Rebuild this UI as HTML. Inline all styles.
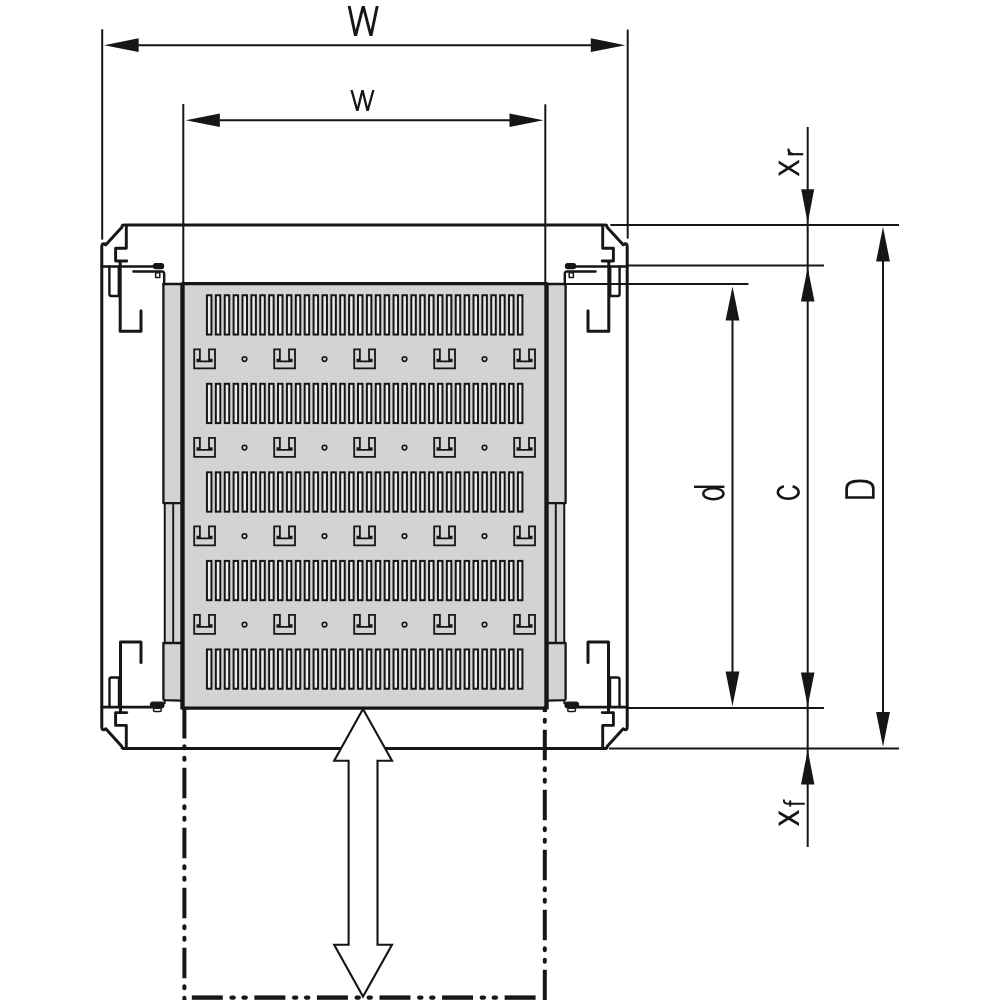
<!DOCTYPE html><html><head><meta charset="utf-8"><style>html,body{margin:0;padding:0;background:#fff;width:1000px;height:1000px;overflow:hidden}svg{display:block}</style></head><body>
<svg width="1000" height="1000" viewBox="0 0 1000 1000">
<rect width="1000" height="1000" fill="#fff"/>
<g stroke="#161616" fill="none" stroke-linecap="butt" stroke-linejoin="round">
<line x1="102.20" y1="29.30" x2="102.20" y2="239.60" stroke-width="2.00"/>
<line x1="627.70" y1="29.50" x2="627.70" y2="238.60" stroke-width="2.00"/>
<line x1="115.00" y1="45.20" x2="615.00" y2="45.20" stroke-width="2.00"/>
</g>
<polygon points="104.10,45.20 138.60,38.35 138.60,52.05" fill="#161616"/>
<polygon points="625.30,45.20 590.80,38.35 590.80,52.05" fill="#161616"/>
<g stroke="#161616" fill="none" stroke-linecap="butt" stroke-linejoin="miter">
<polygon points="347.69,5.95 350.65,5.95 355.68,29.73 361.76,5.95 364.72,5.95 370.79,29.70 375.76,5.95 378.72,5.95 372.42,36.04 369.46,36.04 363.24,11.71 357.02,36.04 354.06,36.04" fill="#161616" stroke="none"/>
<line x1="183.30" y1="104.00" x2="183.30" y2="283.00" stroke-width="2.00"/>
<line x1="545.30" y1="104.30" x2="545.30" y2="284.00" stroke-width="2.00"/>
<line x1="200.00" y1="120.30" x2="530.00" y2="120.30" stroke-width="2.00"/>
<polygon points="350.38,89.90 352.74,89.90 357.27,106.53 361.32,89.90 363.68,89.90 367.65,106.49 372.18,89.90 374.53,89.90 368.75,111.08 366.40,111.08 362.49,94.76 358.51,111.08 356.16,111.08" fill="#161616" stroke="none"/>
</g>
<polygon points="185.80,120.30 219.90,113.55 219.90,127.05" fill="#161616"/>
<polygon points="543.40,120.30 509.50,113.55 509.50,127.05" fill="#161616"/>
<rect x="182.5" y="284" width="364" height="424" fill="#d3d3d3"/>
<rect x="163.40" y="284" width="19.10" height="416" fill="#d3d3d3"/>
<rect x="546.50" y="284" width="19.10" height="416" fill="#d3d3d3"/>
<g stroke="#161616" fill="none" stroke-linecap="round" stroke-linejoin="round">
<line x1="182.50" y1="283.60" x2="546.50" y2="283.60" stroke-width="3.10"/>
<line x1="182.50" y1="708.10" x2="546.50" y2="708.10" stroke-width="3.10"/>
</g>
<rect x="180.3" y="282.7" width="4.4" height="426.6" fill="#161616"/>
<rect x="544.3" y="282.7" width="4.4" height="426.6" fill="#161616"/>
<g stroke="#161616" fill="#ededed" stroke-width="2.0">
<rect x="206.95" y="295.25" width="4.5" height="39.3"/>
<rect x="215.83" y="295.25" width="4.5" height="39.3"/>
<rect x="224.72" y="295.25" width="4.5" height="39.3"/>
<rect x="233.60" y="295.25" width="4.5" height="39.3"/>
<rect x="242.49" y="295.25" width="4.5" height="39.3"/>
<rect x="251.38" y="295.25" width="4.5" height="39.3"/>
<rect x="260.26" y="295.25" width="4.5" height="39.3"/>
<rect x="269.14" y="295.25" width="4.5" height="39.3"/>
<rect x="278.03" y="295.25" width="4.5" height="39.3"/>
<rect x="286.92" y="295.25" width="4.5" height="39.3"/>
<rect x="295.80" y="295.25" width="4.5" height="39.3"/>
<rect x="304.69" y="295.25" width="4.5" height="39.3"/>
<rect x="313.57" y="295.25" width="4.5" height="39.3"/>
<rect x="322.45" y="295.25" width="4.5" height="39.3"/>
<rect x="331.34" y="295.25" width="4.5" height="39.3"/>
<rect x="340.22" y="295.25" width="4.5" height="39.3"/>
<rect x="349.11" y="295.25" width="4.5" height="39.3"/>
<rect x="357.99" y="295.25" width="4.5" height="39.3"/>
<rect x="366.88" y="295.25" width="4.5" height="39.3"/>
<rect x="375.76" y="295.25" width="4.5" height="39.3"/>
<rect x="384.65" y="295.25" width="4.5" height="39.3"/>
<rect x="393.54" y="295.25" width="4.5" height="39.3"/>
<rect x="402.42" y="295.25" width="4.5" height="39.3"/>
<rect x="411.31" y="295.25" width="4.5" height="39.3"/>
<rect x="420.19" y="295.25" width="4.5" height="39.3"/>
<rect x="429.07" y="295.25" width="4.5" height="39.3"/>
<rect x="437.96" y="295.25" width="4.5" height="39.3"/>
<rect x="446.84" y="295.25" width="4.5" height="39.3"/>
<rect x="455.73" y="295.25" width="4.5" height="39.3"/>
<rect x="464.62" y="295.25" width="4.5" height="39.3"/>
<rect x="473.50" y="295.25" width="4.5" height="39.3"/>
<rect x="482.38" y="295.25" width="4.5" height="39.3"/>
<rect x="491.27" y="295.25" width="4.5" height="39.3"/>
<rect x="500.15" y="295.25" width="4.5" height="39.3"/>
<rect x="509.04" y="295.25" width="4.5" height="39.3"/>
<rect x="517.92" y="295.25" width="4.5" height="39.3"/>
<rect x="206.95" y="383.80" width="4.5" height="39.3"/>
<rect x="215.83" y="383.80" width="4.5" height="39.3"/>
<rect x="224.72" y="383.80" width="4.5" height="39.3"/>
<rect x="233.60" y="383.80" width="4.5" height="39.3"/>
<rect x="242.49" y="383.80" width="4.5" height="39.3"/>
<rect x="251.38" y="383.80" width="4.5" height="39.3"/>
<rect x="260.26" y="383.80" width="4.5" height="39.3"/>
<rect x="269.14" y="383.80" width="4.5" height="39.3"/>
<rect x="278.03" y="383.80" width="4.5" height="39.3"/>
<rect x="286.92" y="383.80" width="4.5" height="39.3"/>
<rect x="295.80" y="383.80" width="4.5" height="39.3"/>
<rect x="304.69" y="383.80" width="4.5" height="39.3"/>
<rect x="313.57" y="383.80" width="4.5" height="39.3"/>
<rect x="322.45" y="383.80" width="4.5" height="39.3"/>
<rect x="331.34" y="383.80" width="4.5" height="39.3"/>
<rect x="340.22" y="383.80" width="4.5" height="39.3"/>
<rect x="349.11" y="383.80" width="4.5" height="39.3"/>
<rect x="357.99" y="383.80" width="4.5" height="39.3"/>
<rect x="366.88" y="383.80" width="4.5" height="39.3"/>
<rect x="375.76" y="383.80" width="4.5" height="39.3"/>
<rect x="384.65" y="383.80" width="4.5" height="39.3"/>
<rect x="393.54" y="383.80" width="4.5" height="39.3"/>
<rect x="402.42" y="383.80" width="4.5" height="39.3"/>
<rect x="411.31" y="383.80" width="4.5" height="39.3"/>
<rect x="420.19" y="383.80" width="4.5" height="39.3"/>
<rect x="429.07" y="383.80" width="4.5" height="39.3"/>
<rect x="437.96" y="383.80" width="4.5" height="39.3"/>
<rect x="446.84" y="383.80" width="4.5" height="39.3"/>
<rect x="455.73" y="383.80" width="4.5" height="39.3"/>
<rect x="464.62" y="383.80" width="4.5" height="39.3"/>
<rect x="473.50" y="383.80" width="4.5" height="39.3"/>
<rect x="482.38" y="383.80" width="4.5" height="39.3"/>
<rect x="491.27" y="383.80" width="4.5" height="39.3"/>
<rect x="500.15" y="383.80" width="4.5" height="39.3"/>
<rect x="509.04" y="383.80" width="4.5" height="39.3"/>
<rect x="517.92" y="383.80" width="4.5" height="39.3"/>
<rect x="206.95" y="472.35" width="4.5" height="39.3"/>
<rect x="215.83" y="472.35" width="4.5" height="39.3"/>
<rect x="224.72" y="472.35" width="4.5" height="39.3"/>
<rect x="233.60" y="472.35" width="4.5" height="39.3"/>
<rect x="242.49" y="472.35" width="4.5" height="39.3"/>
<rect x="251.38" y="472.35" width="4.5" height="39.3"/>
<rect x="260.26" y="472.35" width="4.5" height="39.3"/>
<rect x="269.14" y="472.35" width="4.5" height="39.3"/>
<rect x="278.03" y="472.35" width="4.5" height="39.3"/>
<rect x="286.92" y="472.35" width="4.5" height="39.3"/>
<rect x="295.80" y="472.35" width="4.5" height="39.3"/>
<rect x="304.69" y="472.35" width="4.5" height="39.3"/>
<rect x="313.57" y="472.35" width="4.5" height="39.3"/>
<rect x="322.45" y="472.35" width="4.5" height="39.3"/>
<rect x="331.34" y="472.35" width="4.5" height="39.3"/>
<rect x="340.22" y="472.35" width="4.5" height="39.3"/>
<rect x="349.11" y="472.35" width="4.5" height="39.3"/>
<rect x="357.99" y="472.35" width="4.5" height="39.3"/>
<rect x="366.88" y="472.35" width="4.5" height="39.3"/>
<rect x="375.76" y="472.35" width="4.5" height="39.3"/>
<rect x="384.65" y="472.35" width="4.5" height="39.3"/>
<rect x="393.54" y="472.35" width="4.5" height="39.3"/>
<rect x="402.42" y="472.35" width="4.5" height="39.3"/>
<rect x="411.31" y="472.35" width="4.5" height="39.3"/>
<rect x="420.19" y="472.35" width="4.5" height="39.3"/>
<rect x="429.07" y="472.35" width="4.5" height="39.3"/>
<rect x="437.96" y="472.35" width="4.5" height="39.3"/>
<rect x="446.84" y="472.35" width="4.5" height="39.3"/>
<rect x="455.73" y="472.35" width="4.5" height="39.3"/>
<rect x="464.62" y="472.35" width="4.5" height="39.3"/>
<rect x="473.50" y="472.35" width="4.5" height="39.3"/>
<rect x="482.38" y="472.35" width="4.5" height="39.3"/>
<rect x="491.27" y="472.35" width="4.5" height="39.3"/>
<rect x="500.15" y="472.35" width="4.5" height="39.3"/>
<rect x="509.04" y="472.35" width="4.5" height="39.3"/>
<rect x="517.92" y="472.35" width="4.5" height="39.3"/>
<rect x="206.95" y="560.90" width="4.5" height="39.3"/>
<rect x="215.83" y="560.90" width="4.5" height="39.3"/>
<rect x="224.72" y="560.90" width="4.5" height="39.3"/>
<rect x="233.60" y="560.90" width="4.5" height="39.3"/>
<rect x="242.49" y="560.90" width="4.5" height="39.3"/>
<rect x="251.38" y="560.90" width="4.5" height="39.3"/>
<rect x="260.26" y="560.90" width="4.5" height="39.3"/>
<rect x="269.14" y="560.90" width="4.5" height="39.3"/>
<rect x="278.03" y="560.90" width="4.5" height="39.3"/>
<rect x="286.92" y="560.90" width="4.5" height="39.3"/>
<rect x="295.80" y="560.90" width="4.5" height="39.3"/>
<rect x="304.69" y="560.90" width="4.5" height="39.3"/>
<rect x="313.57" y="560.90" width="4.5" height="39.3"/>
<rect x="322.45" y="560.90" width="4.5" height="39.3"/>
<rect x="331.34" y="560.90" width="4.5" height="39.3"/>
<rect x="340.22" y="560.90" width="4.5" height="39.3"/>
<rect x="349.11" y="560.90" width="4.5" height="39.3"/>
<rect x="357.99" y="560.90" width="4.5" height="39.3"/>
<rect x="366.88" y="560.90" width="4.5" height="39.3"/>
<rect x="375.76" y="560.90" width="4.5" height="39.3"/>
<rect x="384.65" y="560.90" width="4.5" height="39.3"/>
<rect x="393.54" y="560.90" width="4.5" height="39.3"/>
<rect x="402.42" y="560.90" width="4.5" height="39.3"/>
<rect x="411.31" y="560.90" width="4.5" height="39.3"/>
<rect x="420.19" y="560.90" width="4.5" height="39.3"/>
<rect x="429.07" y="560.90" width="4.5" height="39.3"/>
<rect x="437.96" y="560.90" width="4.5" height="39.3"/>
<rect x="446.84" y="560.90" width="4.5" height="39.3"/>
<rect x="455.73" y="560.90" width="4.5" height="39.3"/>
<rect x="464.62" y="560.90" width="4.5" height="39.3"/>
<rect x="473.50" y="560.90" width="4.5" height="39.3"/>
<rect x="482.38" y="560.90" width="4.5" height="39.3"/>
<rect x="491.27" y="560.90" width="4.5" height="39.3"/>
<rect x="500.15" y="560.90" width="4.5" height="39.3"/>
<rect x="509.04" y="560.90" width="4.5" height="39.3"/>
<rect x="517.92" y="560.90" width="4.5" height="39.3"/>
<rect x="206.95" y="649.45" width="4.5" height="39.3"/>
<rect x="215.83" y="649.45" width="4.5" height="39.3"/>
<rect x="224.72" y="649.45" width="4.5" height="39.3"/>
<rect x="233.60" y="649.45" width="4.5" height="39.3"/>
<rect x="242.49" y="649.45" width="4.5" height="39.3"/>
<rect x="251.38" y="649.45" width="4.5" height="39.3"/>
<rect x="260.26" y="649.45" width="4.5" height="39.3"/>
<rect x="269.14" y="649.45" width="4.5" height="39.3"/>
<rect x="278.03" y="649.45" width="4.5" height="39.3"/>
<rect x="286.92" y="649.45" width="4.5" height="39.3"/>
<rect x="295.80" y="649.45" width="4.5" height="39.3"/>
<rect x="304.69" y="649.45" width="4.5" height="39.3"/>
<rect x="313.57" y="649.45" width="4.5" height="39.3"/>
<rect x="322.45" y="649.45" width="4.5" height="39.3"/>
<rect x="331.34" y="649.45" width="4.5" height="39.3"/>
<rect x="340.22" y="649.45" width="4.5" height="39.3"/>
<rect x="349.11" y="649.45" width="4.5" height="39.3"/>
<rect x="357.99" y="649.45" width="4.5" height="39.3"/>
<rect x="366.88" y="649.45" width="4.5" height="39.3"/>
<rect x="375.76" y="649.45" width="4.5" height="39.3"/>
<rect x="384.65" y="649.45" width="4.5" height="39.3"/>
<rect x="393.54" y="649.45" width="4.5" height="39.3"/>
<rect x="402.42" y="649.45" width="4.5" height="39.3"/>
<rect x="411.31" y="649.45" width="4.5" height="39.3"/>
<rect x="420.19" y="649.45" width="4.5" height="39.3"/>
<rect x="429.07" y="649.45" width="4.5" height="39.3"/>
<rect x="437.96" y="649.45" width="4.5" height="39.3"/>
<rect x="446.84" y="649.45" width="4.5" height="39.3"/>
<rect x="455.73" y="649.45" width="4.5" height="39.3"/>
<rect x="464.62" y="649.45" width="4.5" height="39.3"/>
<rect x="473.50" y="649.45" width="4.5" height="39.3"/>
<rect x="482.38" y="649.45" width="4.5" height="39.3"/>
<rect x="491.27" y="649.45" width="4.5" height="39.3"/>
<rect x="500.15" y="649.45" width="4.5" height="39.3"/>
<rect x="509.04" y="649.45" width="4.5" height="39.3"/>
<rect x="517.92" y="649.45" width="4.5" height="39.3"/>
</g>
<g stroke="#161616" fill="none" stroke-width="1.8" stroke-linejoin="miter">
<polygon points="194.20,349.40 199.90,349.40 199.90,359.70 197.40,359.70 197.40,361.40 211.70,361.40 211.70,359.70 209.00,359.70 209.00,349.40 215.00,349.40 215.00,368.40 194.20,368.40"/>
<circle cx="244.50" cy="359.10" r="2.3" stroke-width="1.6"/>
<polygon points="274.20,349.40 279.90,349.40 279.90,359.70 277.40,359.70 277.40,361.40 291.70,361.40 291.70,359.70 289.00,359.70 289.00,349.40 295.00,349.40 295.00,368.40 274.20,368.40"/>
<circle cx="324.50" cy="359.10" r="2.3" stroke-width="1.6"/>
<polygon points="354.20,349.40 359.90,349.40 359.90,359.70 357.40,359.70 357.40,361.40 371.70,361.40 371.70,359.70 369.00,359.70 369.00,349.40 375.00,349.40 375.00,368.40 354.20,368.40"/>
<circle cx="404.50" cy="359.10" r="2.3" stroke-width="1.6"/>
<polygon points="434.20,349.40 439.90,349.40 439.90,359.70 437.40,359.70 437.40,361.40 451.70,361.40 451.70,359.70 449.00,359.70 449.00,349.40 455.00,349.40 455.00,368.40 434.20,368.40"/>
<circle cx="484.50" cy="359.10" r="2.3" stroke-width="1.6"/>
<polygon points="514.20,349.40 519.90,349.40 519.90,359.70 517.40,359.70 517.40,361.40 531.70,361.40 531.70,359.70 529.00,359.70 529.00,349.40 535.00,349.40 535.00,368.40 514.20,368.40"/>
<polygon points="194.20,437.90 199.90,437.90 199.90,448.20 197.40,448.20 197.40,449.90 211.70,449.90 211.70,448.20 209.00,448.20 209.00,437.90 215.00,437.90 215.00,456.90 194.20,456.90"/>
<circle cx="244.50" cy="447.60" r="2.3" stroke-width="1.6"/>
<polygon points="274.20,437.90 279.90,437.90 279.90,448.20 277.40,448.20 277.40,449.90 291.70,449.90 291.70,448.20 289.00,448.20 289.00,437.90 295.00,437.90 295.00,456.90 274.20,456.90"/>
<circle cx="324.50" cy="447.60" r="2.3" stroke-width="1.6"/>
<polygon points="354.20,437.90 359.90,437.90 359.90,448.20 357.40,448.20 357.40,449.90 371.70,449.90 371.70,448.20 369.00,448.20 369.00,437.90 375.00,437.90 375.00,456.90 354.20,456.90"/>
<circle cx="404.50" cy="447.60" r="2.3" stroke-width="1.6"/>
<polygon points="434.20,437.90 439.90,437.90 439.90,448.20 437.40,448.20 437.40,449.90 451.70,449.90 451.70,448.20 449.00,448.20 449.00,437.90 455.00,437.90 455.00,456.90 434.20,456.90"/>
<circle cx="484.50" cy="447.60" r="2.3" stroke-width="1.6"/>
<polygon points="514.20,437.90 519.90,437.90 519.90,448.20 517.40,448.20 517.40,449.90 531.70,449.90 531.70,448.20 529.00,448.20 529.00,437.90 535.00,437.90 535.00,456.90 514.20,456.90"/>
<polygon points="194.20,526.40 199.90,526.40 199.90,536.70 197.40,536.70 197.40,538.40 211.70,538.40 211.70,536.70 209.00,536.70 209.00,526.40 215.00,526.40 215.00,545.40 194.20,545.40"/>
<circle cx="244.50" cy="536.10" r="2.3" stroke-width="1.6"/>
<polygon points="274.20,526.40 279.90,526.40 279.90,536.70 277.40,536.70 277.40,538.40 291.70,538.40 291.70,536.70 289.00,536.70 289.00,526.40 295.00,526.40 295.00,545.40 274.20,545.40"/>
<circle cx="324.50" cy="536.10" r="2.3" stroke-width="1.6"/>
<polygon points="354.20,526.40 359.90,526.40 359.90,536.70 357.40,536.70 357.40,538.40 371.70,538.40 371.70,536.70 369.00,536.70 369.00,526.40 375.00,526.40 375.00,545.40 354.20,545.40"/>
<circle cx="404.50" cy="536.10" r="2.3" stroke-width="1.6"/>
<polygon points="434.20,526.40 439.90,526.40 439.90,536.70 437.40,536.70 437.40,538.40 451.70,538.40 451.70,536.70 449.00,536.70 449.00,526.40 455.00,526.40 455.00,545.40 434.20,545.40"/>
<circle cx="484.50" cy="536.10" r="2.3" stroke-width="1.6"/>
<polygon points="514.20,526.40 519.90,526.40 519.90,536.70 517.40,536.70 517.40,538.40 531.70,538.40 531.70,536.70 529.00,536.70 529.00,526.40 535.00,526.40 535.00,545.40 514.20,545.40"/>
<polygon points="194.20,614.90 199.90,614.90 199.90,625.20 197.40,625.20 197.40,626.90 211.70,626.90 211.70,625.20 209.00,625.20 209.00,614.90 215.00,614.90 215.00,633.90 194.20,633.90"/>
<circle cx="244.50" cy="624.60" r="2.3" stroke-width="1.6"/>
<polygon points="274.20,614.90 279.90,614.90 279.90,625.20 277.40,625.20 277.40,626.90 291.70,626.90 291.70,625.20 289.00,625.20 289.00,614.90 295.00,614.90 295.00,633.90 274.20,633.90"/>
<circle cx="324.50" cy="624.60" r="2.3" stroke-width="1.6"/>
<polygon points="354.20,614.90 359.90,614.90 359.90,625.20 357.40,625.20 357.40,626.90 371.70,626.90 371.70,625.20 369.00,625.20 369.00,614.90 375.00,614.90 375.00,633.90 354.20,633.90"/>
<circle cx="404.50" cy="624.60" r="2.3" stroke-width="1.6"/>
<polygon points="434.20,614.90 439.90,614.90 439.90,625.20 437.40,625.20 437.40,626.90 451.70,626.90 451.70,625.20 449.00,625.20 449.00,614.90 455.00,614.90 455.00,633.90 434.20,633.90"/>
<circle cx="484.50" cy="624.60" r="2.3" stroke-width="1.6"/>
<polygon points="514.20,614.90 519.90,614.90 519.90,625.20 517.40,625.20 517.40,626.90 531.70,626.90 531.70,625.20 529.00,625.20 529.00,614.90 535.00,614.90 535.00,633.90 514.20,633.90"/>
</g>
<g stroke="#161616" fill="none" stroke-linecap="round" stroke-linejoin="round">
<line x1="125.00" y1="225.00" x2="604.00" y2="225.00" stroke-width="3.00" stroke-linecap="butt"/>
<line x1="125.00" y1="748.60" x2="604.00" y2="748.60" stroke-width="3.00" stroke-linecap="butt"/>
<g>
<path d="M123.8,225 Q121.9,225.2 121.9,227.2 L105.8,244.8 Q103.6,243.2 102.3,244.4 Q101.8,245 101.8,246.8 L101.8,726.8 Q101.8,728.6 102.3,729.2 Q103.6,730.4 105.8,728.8 L121.9,746.4 Q121.9,748.4 123.8,748.6 L365,748.6" stroke-width="3.0"/>
<path d="M126.3,225.5 L126.3,248.2 L115.6,248.2 L115.6,261 L126.8,261" stroke-width="2.9"/>
<path d="M126.3,748.1 L126.3,725.4 L115.6,725.4 L115.6,712.6 L126.8,712.6" stroke-width="2.9"/>
<line x1="101.80" y1="266.50" x2="155.00" y2="266.50" stroke-width="2.70"/>
<rect x="153.4" y="263.6" width="10.2" height="5" rx="2.4" fill="#161616" stroke-width="1.2"/>
<rect x="155.6" y="272.8" width="4.2" height="4.6" stroke-width="1.5"/>
<path d="M133.4,271.5 L161.8,271.5 Q164.2,271.5 164.2,274 L164.2,284" stroke-width="2.4"/>
<path d="M163.4,284 L163.4,503.2 L180.5,503.2" stroke-width="2.3"/>
<line x1="163.40" y1="284.00" x2="180.50" y2="284.00" stroke-width="2.30"/>
<line x1="164.80" y1="503.20" x2="164.80" y2="643.00" stroke-width="1.90"/>
<line x1="173.20" y1="503.20" x2="173.20" y2="643.00" stroke-width="1.90"/>
<path d="M180.5,643 L163.4,643 L163.4,699 Q163.4,700 165,700.2 L180.5,700.6" stroke-width="2.3"/>
<path d="M109.4,266.8 L109.4,294 Q109.4,296 111.4,296 L118.8,296 L118.8,266.8" stroke-width="2.4"/>
<path d="M109.5,707 L109.5,679.5 Q109.5,677.5 111.5,677.5 L119,677.5 L119,707" stroke-width="2.4"/>
<path d="M120.2,262 L120.2,331.2 L141,331.2 L141,310.8" stroke-width="3.0"/>
<path d="M120.5,712 L120.5,642 L141,642 L141,662.5" stroke-width="3.0"/>
<line x1="101.80" y1="707.10" x2="152.00" y2="707.10" stroke-width="2.70"/>
<rect x="150.5" y="702.2" width="13.5" height="5.6" rx="2.5" fill="#161616" stroke-width="1.2"/>
<rect x="153.6" y="708.2" width="7.6" height="3.4" rx="1" stroke-width="1.5"/>
<path d="M164.5,700.5 L164.8,703" stroke-width="2.0"/>
</g>
<g transform="translate(729,0) scale(-1,1)">
<path d="M123.8,225 Q121.9,225.2 121.9,227.2 L105.8,244.8 Q103.6,243.2 102.3,244.4 Q101.8,245 101.8,246.8 L101.8,726.8 Q101.8,728.6 102.3,729.2 Q103.6,730.4 105.8,728.8 L121.9,746.4 Q121.9,748.4 123.8,748.6 L365,748.6" stroke-width="3.0"/>
<path d="M126.3,225.5 L126.3,248.2 L115.6,248.2 L115.6,261 L126.8,261" stroke-width="2.9"/>
<path d="M126.3,748.1 L126.3,725.4 L115.6,725.4 L115.6,712.6 L126.8,712.6" stroke-width="2.9"/>
<line x1="101.80" y1="266.50" x2="155.00" y2="266.50" stroke-width="2.70"/>
<rect x="153.4" y="263.6" width="10.2" height="5" rx="2.4" fill="#161616" stroke-width="1.2"/>
<rect x="155.6" y="272.8" width="4.2" height="4.6" stroke-width="1.5"/>
<path d="M133.4,271.5 L161.8,271.5 Q164.2,271.5 164.2,274 L164.2,284" stroke-width="2.4"/>
<path d="M163.4,284 L163.4,503.2 L180.5,503.2" stroke-width="2.3"/>
<line x1="163.40" y1="284.00" x2="180.50" y2="284.00" stroke-width="2.30"/>
<line x1="164.80" y1="503.20" x2="164.80" y2="643.00" stroke-width="1.90"/>
<line x1="173.20" y1="503.20" x2="173.20" y2="643.00" stroke-width="1.90"/>
<path d="M180.5,643 L163.4,643 L163.4,699 Q163.4,700 165,700.2 L180.5,700.6" stroke-width="2.3"/>
<path d="M109.4,266.8 L109.4,294 Q109.4,296 111.4,296 L118.8,296 L118.8,266.8" stroke-width="2.4"/>
<path d="M109.5,707 L109.5,679.5 Q109.5,677.5 111.5,677.5 L119,677.5 L119,707" stroke-width="2.4"/>
<path d="M120.2,262 L120.2,331.2 L141,331.2 L141,310.8" stroke-width="3.0"/>
<path d="M120.5,712 L120.5,642 L141,642 L141,662.5" stroke-width="3.0"/>
<line x1="101.80" y1="707.10" x2="152.00" y2="707.10" stroke-width="2.70"/>
<rect x="150.5" y="702.2" width="13.5" height="5.6" rx="2.5" fill="#161616" stroke-width="1.2"/>
<rect x="153.6" y="708.2" width="7.6" height="3.4" rx="1" stroke-width="1.5"/>
<path d="M164.5,700.5 L164.8,703" stroke-width="2.0"/>
</g>
</g>
<g stroke="#161616" fill="none" stroke-linecap="butt">
<line x1="610.40" y1="225.00" x2="899.00" y2="225.00" stroke-width="2.00"/>
<line x1="627.20" y1="265.40" x2="824.00" y2="265.40" stroke-width="2.00"/>
<line x1="565.60" y1="283.90" x2="748.40" y2="283.90" stroke-width="2.00"/>
<line x1="627.20" y1="708.00" x2="824.00" y2="708.00" stroke-width="2.00"/>
<line x1="609.00" y1="748.60" x2="899.00" y2="748.60" stroke-width="2.00"/>
<line x1="732.50" y1="300.00" x2="732.50" y2="690.00" stroke-width="2.00"/>
<line x1="807.70" y1="127.00" x2="807.70" y2="847.00" stroke-width="2.00"/>
<line x1="883.00" y1="245.00" x2="883.00" y2="730.00" stroke-width="2.00"/>
</g>
<polygon points="807.70,223.10 801.20,189.30 814.20,189.30" fill="#161616"/>
<polygon points="807.70,267.50 800.90,301.40 814.50,301.40" fill="#161616"/>
<polygon points="807.70,706.30 800.90,672.40 814.50,672.40" fill="#161616"/>
<polygon points="807.70,749.80 801.00,784.60 814.40,784.60" fill="#161616"/>
<polygon points="732.50,286.50 725.60,320.60 739.40,320.60" fill="#161616"/>
<polygon points="732.50,706.30 725.60,671.50 739.40,671.50" fill="#161616"/>
<polygon points="883.00,226.80 876.10,261.50 889.90,261.50" fill="#161616"/>
<polygon points="883.00,746.80 876.10,712.00 889.90,712.00" fill="#161616"/>
<g stroke="#161616" fill="none" stroke-linecap="butt" stroke-linejoin="miter">
<line x1="694" y1="486.8" x2="724.4" y2="486.8" stroke-width="2.4"/>
<ellipse cx="713.4" cy="493.7" rx="10.1" ry="5.5" stroke-width="2.4"/>
<path d="M783.9,486.2 A10.4,6.6 0 1,0 792.6,486.2" stroke-width="2.5"/>
<path d="M846.6,497.5 L846.6,488.5 Q846.6,480.8 860,480.8 Q873.3,480.8 873.3,488.5 L873.3,497.5 Z" stroke-width="2.7"/>
<polygon points="778.60,160.45 799.20,173.25 799.20,176.35 778.60,163.55" fill="#161616" stroke="none"/>
<polygon points="778.60,172.85 799.20,159.65 799.20,162.75 778.60,175.95" fill="#161616" stroke="none"/>
<path d="M803.2,154.2 L787.8,154.2" stroke-width="2.2"/>
<path d="M792.2,154 Q788.8,153.4 788.5,149.6" stroke-width="2.4" stroke-linecap="round"/>
<polygon points="778.60,810.85 799.00,822.85 799.00,825.95 778.60,813.95" fill="#161616" stroke="none"/>
<polygon points="778.60,822.85 799.00,810.05 799.00,813.15 778.60,825.95" fill="#161616" stroke="none"/>
<path d="M804.8,803.8 L787.5,803.8 Q783.8,803.8 783.8,799.6" stroke-width="2.0"/>
<line x1="790.2" y1="800.4" x2="790.2" y2="806.6" stroke-width="2.0"/>
</g>
<path d="M363,709 L392,760.8 L377.5,760.8 L377.5,944.7 L392,944.7 L363,996.5 L334.2,944.7 L348.6,944.7 L348.6,760.8 L334.2,760.8 Z" fill="#fff" stroke="#161616" stroke-width="2.1" stroke-linejoin="miter"/>
<g stroke="#161616" stroke-width="3" stroke-linecap="round">
<line x1="184.40" y1="708.00" x2="184.40" y2="738.50" stroke-width="4.00" stroke-linecap="butt"/>
<line x1="184.40" y1="767.75" x2="184.40" y2="798.25" stroke-width="4.00" stroke-linecap="butt"/>
<line x1="184.40" y1="827.75" x2="184.40" y2="858.25" stroke-width="4.00" stroke-linecap="butt"/>
<line x1="184.40" y1="887.75" x2="184.40" y2="918.25" stroke-width="4.00" stroke-linecap="butt"/>
<line x1="184.40" y1="947.75" x2="184.40" y2="978.25" stroke-width="4.00" stroke-linecap="butt"/>
<line x1="184.40" y1="746.25" x2="184.40" y2="748.25" stroke-width="4.00" stroke-linecap="round"/>
<line x1="184.40" y1="757.75" x2="184.40" y2="759.75" stroke-width="4.00" stroke-linecap="round"/>
<line x1="184.40" y1="806.25" x2="184.40" y2="808.25" stroke-width="4.00" stroke-linecap="round"/>
<line x1="184.40" y1="817.75" x2="184.40" y2="819.75" stroke-width="4.00" stroke-linecap="round"/>
<line x1="184.40" y1="866.25" x2="184.40" y2="868.25" stroke-width="4.00" stroke-linecap="round"/>
<line x1="184.40" y1="877.75" x2="184.40" y2="879.75" stroke-width="4.00" stroke-linecap="round"/>
<line x1="184.40" y1="926.25" x2="184.40" y2="928.25" stroke-width="4.00" stroke-linecap="round"/>
<line x1="184.40" y1="937.75" x2="184.40" y2="939.75" stroke-width="4.00" stroke-linecap="round"/>
<line x1="184.40" y1="986.25" x2="184.40" y2="988.25" stroke-width="4.00" stroke-linecap="round"/>
<line x1="184.40" y1="997.75" x2="184.40" y2="999.75" stroke-width="4.00" stroke-linecap="round"/>
<line x1="544.80" y1="708.00" x2="544.80" y2="712.00" stroke-width="4.00" stroke-linecap="butt"/>
<line x1="544.80" y1="729.75" x2="544.80" y2="760.25" stroke-width="4.00" stroke-linecap="butt"/>
<line x1="544.80" y1="708.25" x2="544.80" y2="710.25" stroke-width="4.00" stroke-linecap="round"/>
<line x1="544.80" y1="719.75" x2="544.80" y2="721.75" stroke-width="4.00" stroke-linecap="round"/>
<line x1="544.80" y1="789.75" x2="544.80" y2="820.25" stroke-width="4.00" stroke-linecap="butt"/>
<line x1="544.80" y1="768.25" x2="544.80" y2="770.25" stroke-width="4.00" stroke-linecap="round"/>
<line x1="544.80" y1="779.75" x2="544.80" y2="781.75" stroke-width="4.00" stroke-linecap="round"/>
<line x1="544.80" y1="849.75" x2="544.80" y2="880.25" stroke-width="4.00" stroke-linecap="butt"/>
<line x1="544.80" y1="828.25" x2="544.80" y2="830.25" stroke-width="4.00" stroke-linecap="round"/>
<line x1="544.80" y1="839.75" x2="544.80" y2="841.75" stroke-width="4.00" stroke-linecap="round"/>
<line x1="544.80" y1="909.75" x2="544.80" y2="940.25" stroke-width="4.00" stroke-linecap="butt"/>
<line x1="544.80" y1="888.25" x2="544.80" y2="890.25" stroke-width="4.00" stroke-linecap="round"/>
<line x1="544.80" y1="899.75" x2="544.80" y2="901.75" stroke-width="4.00" stroke-linecap="round"/>
<line x1="544.80" y1="969.75" x2="544.80" y2="1000.00" stroke-width="4.00" stroke-linecap="butt"/>
<line x1="544.80" y1="948.25" x2="544.80" y2="950.25" stroke-width="4.00" stroke-linecap="round"/>
<line x1="544.80" y1="959.75" x2="544.80" y2="961.75" stroke-width="4.00" stroke-linecap="round"/>
<line x1="191.80" y1="997.60" x2="222.80" y2="997.60" stroke-width="4.40" stroke-linecap="butt"/>
<line x1="231.60" y1="997.60" x2="233.60" y2="997.60" stroke-width="4.40" stroke-linecap="round"/>
<line x1="243.60" y1="997.60" x2="245.60" y2="997.60" stroke-width="4.40" stroke-linecap="round"/>
<line x1="254.36" y1="997.60" x2="285.36" y2="997.60" stroke-width="4.40" stroke-linecap="butt"/>
<line x1="294.16" y1="997.60" x2="296.16" y2="997.60" stroke-width="4.40" stroke-linecap="round"/>
<line x1="306.16" y1="997.60" x2="308.16" y2="997.60" stroke-width="4.40" stroke-linecap="round"/>
<line x1="316.92" y1="997.60" x2="347.92" y2="997.60" stroke-width="4.40" stroke-linecap="butt"/>
<line x1="356.72" y1="997.60" x2="358.72" y2="997.60" stroke-width="4.40" stroke-linecap="round"/>
<line x1="368.72" y1="997.60" x2="370.72" y2="997.60" stroke-width="4.40" stroke-linecap="round"/>
<line x1="379.48" y1="997.60" x2="410.48" y2="997.60" stroke-width="4.40" stroke-linecap="butt"/>
<line x1="419.28" y1="997.60" x2="421.28" y2="997.60" stroke-width="4.40" stroke-linecap="round"/>
<line x1="431.28" y1="997.60" x2="433.28" y2="997.60" stroke-width="4.40" stroke-linecap="round"/>
<line x1="442.04" y1="997.60" x2="473.04" y2="997.60" stroke-width="4.40" stroke-linecap="butt"/>
<line x1="481.84" y1="997.60" x2="483.84" y2="997.60" stroke-width="4.40" stroke-linecap="round"/>
<line x1="493.84" y1="997.60" x2="495.84" y2="997.60" stroke-width="4.40" stroke-linecap="round"/>
<line x1="504.60" y1="997.60" x2="535.60" y2="997.60" stroke-width="4.40" stroke-linecap="butt"/>
</g>
</svg></body></html>
